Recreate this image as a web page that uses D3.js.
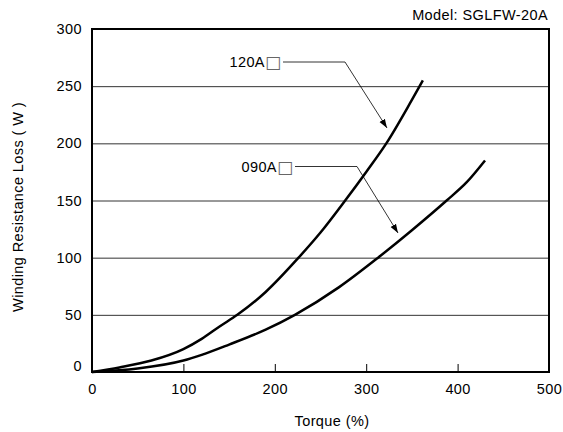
<!DOCTYPE html>
<html>
<head>
<meta charset="utf-8">
<script src="https://cdn.jsdelivr.net/npm/d3@7"></script>
<style>
  body { margin: 0; background: #fff; }
  text { font-family: "Liberation Sans", Arial, sans-serif; fill: #000; }
</style>
</head>
<body>
<div class="chart"></div>
<script>
var svgWidth = 563;
var svgHeight = 432;

var margin = { top: 29, right: 14, bottom: 60, left: 92 };
var width = 549 - margin.left;
var height = 372 - margin.top;

// data
var torque120 = [0, 30, 65, 100, 120, 140, 159, 190, 226, 250, 277, 300, 322, 350, 362];
var loss120   = [0, 4, 10, 20, 29, 40, 50, 70, 100, 122, 150, 175, 200, 238, 255];
var torque090 = [0, 50, 100, 120, 150, 190, 222, 270, 313, 350, 388, 410, 430];
var loss090   = [0, 3, 10, 15, 24, 37, 50, 74, 100, 124, 150, 166, 185];
var xTicks = [0, 100, 200, 300, 400, 500];
var yTicks = [0, 50, 100, 150, 200, 250, 300];

var fontSize = "14.5px";
var spacing = "0.4px";

var svg = d3.select(".chart")
  .append("svg")
  .attr("width", svgWidth)
  .attr("height", svgHeight);

var defs = svg.append("defs");
defs.append("marker")
  .attr("id", "arrow")
  .attr("viewBox", "0 0 10 10")
  .attr("refX", 10)
  .attr("refY", 5)
  .attr("markerWidth", 9)
  .attr("markerHeight", 9)
  .attr("markerUnits", "userSpaceOnUse")
  .attr("orient", "auto")
  .append("path")
  .attr("d", "M0,1.5 L10,5 L0,8.5 Z")
  .attr("fill", "#000");

var chartGroup = svg.append("g")
  .attr("transform", `translate(${margin.left}, ${margin.top})`);

var x = d3.scaleLinear().domain([0, 500]).range([0, width]);
var y = d3.scaleLinear().domain([0, 300]).range([height, 0]);

// horizontal grid
chartGroup.append("g")
  .selectAll("line")
  .data(yTicks.slice(1, -1))
  .enter()
  .append("line")
  .attr("x1", 0)
  .attr("x2", width)
  .attr("y1", d => y(d) + 0.5)
  .attr("y2", d => y(d) + 0.5)
  .attr("stroke", "#333")
  .attr("stroke-width", 1);

// bottom axis, ticks inward
var bottomAxis = d3.axisBottom(x).tickValues(xTicks).tickSizeInner(-8).tickSizeOuter(0).tickPadding(12);
var xAxis = chartGroup.append("g")
  .attr("transform", `translate(0, ${height})`)
  .call(bottomAxis);
xAxis.select(".domain").remove();
xAxis.selectAll("line").attr("stroke", "#000");
xAxis.selectAll("text")
  .style("font-size", fontSize)
  .style("letter-spacing", spacing)
  .attr("font-family", "Liberation Sans, Arial, sans-serif");

var leftAxis = d3.axisLeft(y).tickValues(yTicks).tickSize(0).tickPadding(10);
var yAxis = chartGroup.append("g").call(leftAxis);
yAxis.select(".domain").remove();
yAxis.selectAll("text")
  .style("font-size", fontSize)
  .style("letter-spacing", spacing)
  .attr("font-family", "Liberation Sans, Arial, sans-serif")
  .attr("dy", d => d === 0 ? "-0.1em" : "0.32em");

// frame
chartGroup.append("rect")
  .attr("x", 0)
  .attr("y", 0)
  .attr("width", width)
  .attr("height", height)
  .attr("fill", "none")
  .attr("stroke", "#000")
  .attr("stroke-width", 2);

var line = d3.line()
  .x(d => x(d[0]))
  .y(d => y(d[1]))
  .curve(d3.curveMonotoneX);

chartGroup.append("path")
  .datum(torque120.map((t, i) => [t, loss120[i]]))
  .attr("d", line)
  .attr("fill", "none")
  .attr("stroke", "#000")
  .attr("stroke-width", 2.5);

chartGroup.append("path")
  .datum(torque090.map((t, i) => [t, loss090[i]]))
  .attr("d", line)
  .attr("fill", "none")
  .attr("stroke", "#000")
  .attr("stroke-width", 2.5);

// callout labels: model code plus a larger box glyph
function callout(label, tx, ty, points) {
  var t = svg.append("text")
    .attr("x", tx)
    .attr("y", ty)
    .attr("text-anchor", "end")
    .style("font-size", fontSize)
    .style("letter-spacing", spacing);
  t.append("tspan").text(label);
  t.append("tspan")
    .style("font-family", "DejaVu Sans")
    .style("font-size", "17px")
    .style("letter-spacing", "0px")
    .style("fill", "#666")
    .attr("dy", 1)
    .text("□");

  svg.append("polyline")
    .attr("points", points)
    .attr("fill", "none")
    .attr("stroke", "#000")
    .attr("stroke-width", 0.8)
    .attr("marker-end", "url(#arrow)");
}

callout("120A", 281, 67, "283,62 345,62 387,128");
callout("090A", 293, 172, "295,166.5 357,166.5 398,233");

// titles
svg.append("text")
  .attr("x", 548)
  .attr("y", 20)
  .attr("text-anchor", "end")
  .style("font-size", fontSize)
  .style("letter-spacing", spacing)
  .text("Model: SGLFW-20A");

svg.append("text")
  .attr("x", 332)
  .attr("y", 426)
  .attr("text-anchor", "middle")
  .style("font-size", fontSize)
  .style("letter-spacing", spacing)
  .text("Torque (%)");

svg.append("text")
  .attr("transform", "translate(23, 207) rotate(-90)")
  .attr("text-anchor", "middle")
  .style("font-size", fontSize)
  .style("letter-spacing", spacing)
  .text("Winding Resistance Loss ( W )");
</script>
</body>
</html>
